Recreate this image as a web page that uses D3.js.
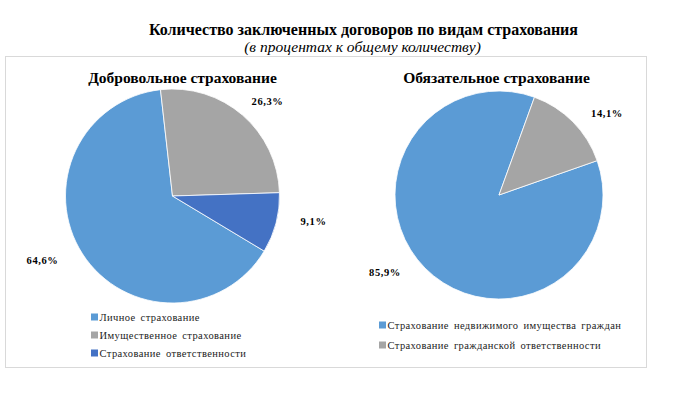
<!DOCTYPE html>
<html><head><meta charset="utf-8">
<script src="https://cdn.jsdelivr.net/npm/d3@7/dist/d3.min.js"></script>
<style>body{margin:0;background:#fff}svg{display:block}text{font-family:"Liberation Serif","DejaVu Serif",serif}</style>
</head><body>
<svg id="c" width="684" height="406"></svg>
<script>
const title = "Количество заключенных договоров по видам страхования";
const subtitle = "(в процентах к общему количеству)";
const volTitle = "Добровольное страхование";
const volCategories = ["Личное страхование", "Имущественное страхование", "Страхование ответственности"];
const volValues = [64.6, 26.3, 9.1];
const volLabels = ["64,6%", "26,3%", "9,1%"];
const obTitle = "Обязательное страхование";
const obCategories = ["Страхование недвижимого имущества граждан", "Страхование гражданской ответственности"];
const obValues = [85.9, 14.1];
const obLabels = ["85,9%", "14,1%"];

const svg = d3.select("#c");
svg.append("rect").attr("x",5.5).attr("y",56.5).attr("width",641).attr("height",311)
  .attr("fill","#fff").attr("stroke","#d9d9d9");
svg.append("text").attr("x",363.5).attr("y",35).attr("text-anchor","middle")
  .attr("font-size",16).attr("font-weight","bold").attr("fill","#000").text(title);
svg.append("text").attr("x",362.5).attr("y",52).attr("text-anchor","middle")
  .attr("font-size",15.5).attr("font-style","italic").attr("fill","#000").text(subtitle);

function drawPie(cfg){
  const g = svg.append("g");
  g.append("text").attr("x",cfg.tx).attr("y",83).attr("text-anchor","middle")
    .attr("font-size",15.5).attr("font-weight","bold").text(cfg.title);
  const color = d3.scaleOrdinal().domain(cfg.cats).range(cfg.colors);
  const start = cfg.start*Math.PI/180;
  const pie = d3.pie().sort(null).value(d=>d.v).startAngle(start).endAngle(start+2*Math.PI);
  const data = cfg.cats.map((c,i)=>({c, v:cfg.vals[i], l:cfg.labels[i]}));
  const arcs = pie(data);
  const arc = d3.arc().innerRadius(0).outerRadius(cfg.r);
  const pg = g.append("g").attr("transform",`translate(${cfg.cx},${cfg.cy})`);
  pg.selectAll("path").data(arcs).join("path").attr("d",arc)
    .attr("fill",d=>color(d.data.c)).attr("stroke","#fff").attr("stroke-width",0.8);
  const la = d3.arc().innerRadius(cfg.r*1.3).outerRadius(cfg.r*1.3);
  pg.selectAll("text.lbl").data(arcs).join("text").attr("class","lbl")
    .attr("transform",(d,i)=>{const p=cfg.lpos?cfg.lpos[i]:la.centroid(d);return `translate(${p[0]},${p[1]})`;})
    .attr("text-anchor","middle").attr("dy","0.35em").attr("font-size",10.5).attr("font-weight","bold")
    .attr("letter-spacing",0.6).text(d=>d.data.l);
  const lg = g.append("g");
  cfg.cats.forEach((c,i)=>{
    const y = cfg.ly + i*cfg.lstep;
    lg.append("rect").attr("x",cfg.lx).attr("y",y-3.5).attr("width",7).attr("height",7).attr("fill",color(c));
    lg.append("text").attr("x",cfg.lx+8.5).attr("y",y).attr("dy","0.35em").attr("font-size",10.5)
      .attr("letter-spacing",0.4).attr("word-spacing",2).attr("fill","#222").text(c);
  });
}
drawPie({title:volTitle,cats:volCategories,vals:volValues,labels:volLabels,
  colors:["#5b9bd5","#a5a5a5","#4472c4"],cx:172.5,cy:196,r:107,start:121,tx:182.5,
  lpos:[[-130,64],[95,-95],[141,25]],lx:91,ly:317,lstep:18});
drawPie({title:obTitle,cats:obCategories,vals:obValues,labels:obLabels,
  colors:["#5b9bd5","#a5a5a5"],cx:499,cy:195,r:104,start:70.7,tx:496.5,
  lpos:[[-114,77],[108,-82]],lx:379,ly:325,lstep:20});
</script>
</body></html>
